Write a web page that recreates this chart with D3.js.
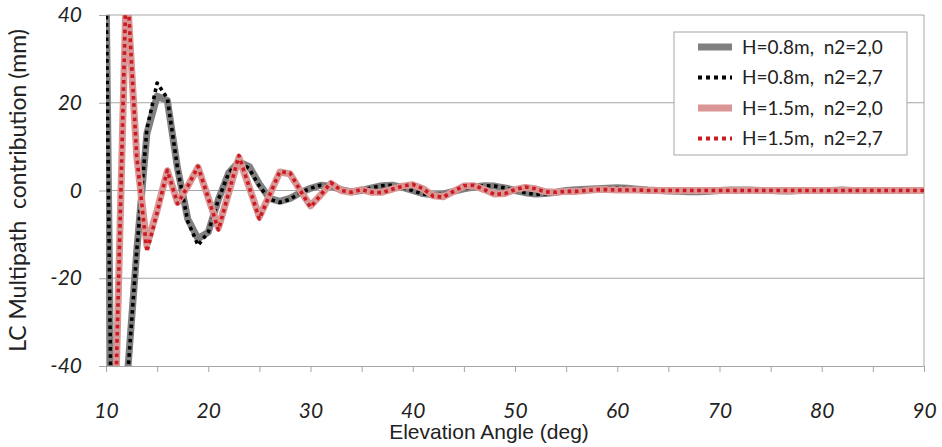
<!DOCTYPE html>
<html lang="en">
  <head>
    <meta charset="UTF-8" />
    <title>LC Multipath contribution</title>
    <style>
      body {
        margin: 0;
        background: #fff;
        font-family: Lato, "Open Sans", sans-serif;
      }
      svg text { fill: #222; }
    </style>
    <script src="https://d3js.org/d3.v7.min.js"></script>
  </head>
  <body>
  <script>

    // elevation angles, 1 deg steps
    const angles = d3.range(10, 91)

    const h08_n20 = [48, -150, -45, -14, 13, 21.5, 20.5, 5, -6.5, -11, -9.5, -2, 4, 6.5, 5.5, 1.5, -1.8, -2.5, -1.8, -0.5,
      0.5, 1.2, 1, 0.2, -0.3, 0, 0.6, 1.1, 1.2, 0.7, 0, -0.7, -1, -0.8, -0.2, 0.4, 0.8, 1.1, 1, 0.6,
      0, -0.5, -0.8, -0.7, -0.4, 0, 0.2, 0.3, 0.4, 0.5, 0.6, 0.5, 0.3, 0.1, 0, -0.1, -0.2, -0.3, -0.3, -0.2,
      0, 0.1, 0.1, 0.1, 0, 0, -0.1, -0.1, 0, 0, 0, 0, 0.1, 0, 0, 0, 0, 0, 0, 0, 0]

    const h08_n27 = [48, -150, -46, -14, 14, 24.5, 21, 5, -7, -12.5, -9.5, -2, 4, 6.5, 5, 1, -2, -2.7, -2, -0.5,
      0.5, 1.2, 1, 0.2, -0.3, 0, 0.6, 1.1, 1.2, 0.7, 0, -0.8, -1.1, -0.8, -0.2, 0.4, 0.8, 1.1, 1, 0.6,
      0, -0.5, -0.9, -0.8, -0.4, 0, 0.2, 0.3, 0.3, 0.5, 0.6, 0.5, 0.3, 0.1, 0, -0.1, -0.2, -0.3, -0.3, -0.2,
      0, 0.1, 0.1, 0.1, 0, 0, -0.1, -0.1, 0, 0, 0, 0, 0.1, 0, 0, 0, 0, 0, 0, 0, 0]

    const h15_n20 = [-120, -42, 48, 8, -12.5, -4.5, 4.5, -2.7, 1, 5.3, -1.7, -8.5, -0.5, 7.5, 0.8, -6, -1, 4.2, 3.8, 0,
      -3.5, -1, 1.6, 0, -0.4, 0.2, -0.4, -0.4, 0.3, 1, 1.3, 0.4, -1.2, -1.4, -0.2, 1, 1.1, 0.2, -0.8, -0.7,
      0.2, 0.7, 0.4, -0.3, -0.4, -0.2, -0.2, 0, 0.2, 0.2, 0.1, 0.1, 0.1, 0, 0, 0, 0, 0, 0, 0,
      0, 0, 0, 0, 0, 0, 0, 0, 0, 0, 0, 0, 0, 0, 0, 0, 0, 0, 0, 0, 0]

    const h15_n27 = [-120, -42, 50, 8, -14, -5, 4.6, -3, 1, 5.5, -1.7, -9, -0.5, 8, 0.8, -6.5, -1, 4.3, 4, 0,
      -3.8, -1, 1.8, 0, -0.4, 0.2, -0.4, -0.5, 0.3, 1, 1.4, 0.4, -1.3, -1.5, -0.2, 1.1, 1.2, 0.2, -0.9, -0.7,
      0.2, 0.8, 0.4, -0.3, -0.4, -0.2, -0.2, 0, 0.2, 0.2, 0.1, 0.1, 0.1, 0, 0, 0, 0, 0, 0, 0,
      0, 0, 0, 0, 0, 0, 0, 0, 0, 0, 0, 0, 0, 0, 0, 0, 0, 0, 0, 0, 0]

    const seriesNames = ["H=0.8m,  n2=2,0", "H=0.8m,  n2=2,7", "H=1.5m,  n2=2,0", "H=1.5m,  n2=2,7"]
    const seriesValues = [h08_n20, h08_n27, h15_n20, h15_n27]
    const xTicks = [10, 20, 30, 40, 50, 60, 70, 80, 90]
    const yTicks = [-40, -20, 0, 20, 40]

    const styles = [
      { color: "#808080", width: 7, dash: null },
      { color: "#000000", width: 3.6, dash: "3.6,3.6" },
      { color: "#d99694", width: 7, dash: null },
      { color: "#cc1a22", width: 3.6, dash: "3.6,3.6" }
    ]

    const W = 942, H = 447
    const margin = { top: 15, right: 18, bottom: 81, left: 106 }
    const width = W - margin.left - margin.right,
          height = H - margin.top - margin.bottom

    const svg = d3.select("body").append("svg")
        .attr("width", W)
        .attr("height", H)

    const g = svg.append("g")
        .attr("transform", `translate(${margin.left},${margin.top})`)

    const x = d3.scaleLinear().domain([10, 90]).range([0, width])
    const y = d3.scaleLinear().domain([-40, 40]).range([height, 0])

    // gridlines
    g.append("g")
      .selectAll("line")
      .data(yTicks.filter(d => d > -40))
      .enter().append("line")
        .attr("x1", 0).attr("x2", width)
        .attr("y1", d => y(d)).attr("y2", d => y(d))
        .attr("stroke", "#a6a6a6")
        .attr("stroke-width", 1)

    // right border
    g.append("line")
      .attr("x1", width).attr("x2", width)
      .attr("y1", 0).attr("y2", height)
      .attr("stroke", "#a6a6a6")

    // x axis
    const xAxis = g.append("g")
        .attr("transform", `translate(0,${height})`)
        .call(d3.axisBottom(x).tickValues(d3.range(10, 91, 5)).tickSize(6)
          .tickFormat(d => xTicks.includes(d) ? String(d) : ""))
    xAxis.select(".domain").attr("stroke", "#a6a6a6")
    xAxis.selectAll(".tick line").attr("stroke", "#a6a6a6")
    xAxis.selectAll(".tick text")
        .attr("y", 37)
        .style("font-family", "Lato, sans-serif")
        .style("font-style", "italic")
        .style("font-size", "21px")
        .attr("fill", "#222")

    // y axis
    const yAxis = g.append("g")
        .call(d3.axisLeft(y).tickValues(yTicks).tickSize(7).tickPadding(17)
          .tickFormat(d => String(d)))
    yAxis.select(".domain").attr("stroke", "#a6a6a6")
    yAxis.selectAll(".tick line").attr("stroke", "#a6a6a6")
    yAxis.selectAll(".tick text")
        .style("font-family", "Lato, sans-serif")
        .style("font-style", "italic")
        .style("font-size", "21px")
        .attr("fill", "#222")

    // clip for lines
    svg.append("defs").append("clipPath").attr("id", "plotclip")
      .append("rect").attr("width", width).attr("height", height)

    const line = d3.line()
        .x((d, i) => x(angles[i]))
        .y(d => y(d))

    const plot = g.append("g").attr("clip-path", "url(#plotclip)")
    seriesValues.forEach((vals, k) => {
      plot.append("path")
        .datum(vals)
        .attr("fill", "none")
        .attr("stroke", styles[k].color)
        .attr("stroke-width", styles[k].width)
        .attr("stroke-dasharray", styles[k].dash)
        .attr("stroke-linejoin", "round")
        .attr("d", line)
    })

    // axis titles
    svg.append("text")
      .attr("x", 489)
      .attr("y", 439)
      .attr("text-anchor", "middle")
      .style("font-family", "'Liberation Sans Narrow', 'Liberation Sans', sans-serif")
      .style("font-size", "21px")
      .text("Elevation Angle (deg)")

    svg.append("text")
      .attr("transform", `translate(26,${margin.top + height / 2}) rotate(-90)`)
      .attr("text-anchor", "middle")
      .style("font-family", "Lato, sans-serif")
      .style("font-size", "23px")
      .style("white-space", "pre")
      .text("LC Multipath  contribution (mm)")

    // legend
    const legend = svg.append("g").attr("transform", "translate(674,32)")
    legend.append("rect")
      .attr("width", 233).attr("height", 123)
      .attr("fill", "#fff")
      .attr("stroke", "#a6a6a6")
    seriesNames.forEach((name, k) => {
      const ly = 15 + k * 30.5
      legend.append("line")
        .attr("x1", 24).attr("x2", 58)
        .attr("y1", ly).attr("y2", ly)
        .attr("stroke", styles[k].color)
        .attr("stroke-width", styles[k].dash ? 4 : 7)
        .attr("stroke-dasharray", styles[k].dash ? "4,4" : null)
      legend.append("text")
        .attr("x", 68).attr("y", ly)
        .attr("dy", "0.35em")
        .style("font-family", "Lato, sans-serif")
        .style("font-size", "19px")
        .style("white-space", "pre")
        .text(name)
    })
  </script>
  </body>
</html>
